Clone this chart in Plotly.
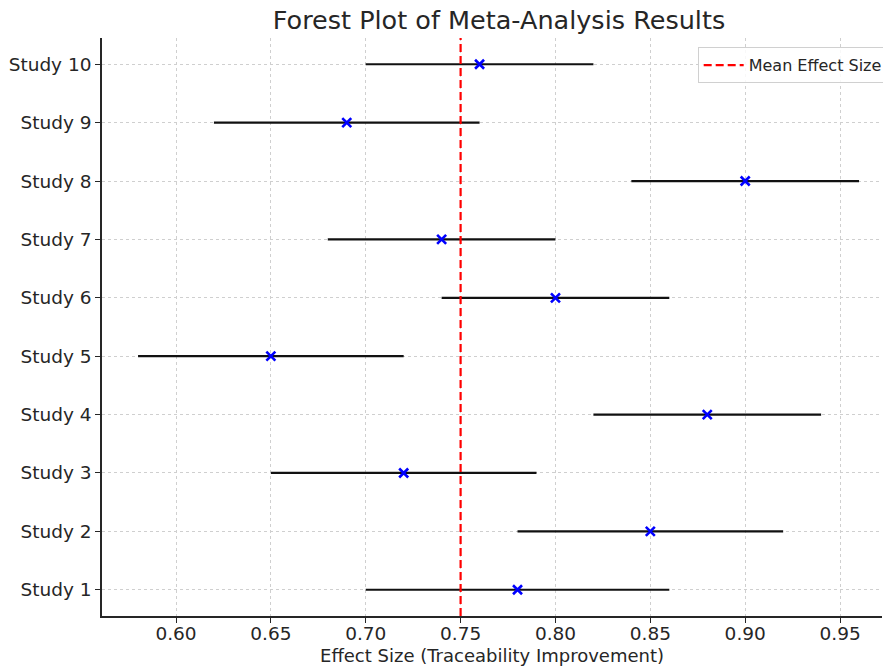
import plotly.graph_objects as go

studies = ["Study 1", "Study 2", "Study 3", "Study 4", "Study 5",
           "Study 6", "Study 7", "Study 8", "Study 9", "Study 10"]
effect = [0.78, 0.85, 0.72, 0.88, 0.65, 0.80, 0.74, 0.90, 0.69, 0.76]
lower = [0.70, 0.78, 0.65, 0.82, 0.58, 0.74, 0.68, 0.84, 0.62, 0.70]
upper = [0.86, 0.92, 0.79, 0.94, 0.72, 0.86, 0.80, 0.96, 0.76, 0.82]
mean_effect = 0.75
x_ticks = [0.60, 0.65, 0.70, 0.75, 0.80, 0.85, 0.90, 0.95]

ypos = list(range(len(studies)))
err_plus = [u - e for u, e in zip(upper, effect)]
err_minus = [e - l for e, l in zip(effect, lower)]

FONT = "DejaVu Sans"
TXT = "#262626"

fig = go.Figure()

fig.add_trace(go.Scatter(
    x=effect, y=ypos, mode="markers",
    marker=dict(symbol="x-thin", size=9, color="#0000ff",
                line=dict(width=2.6, color="#0000ff")),
    error_x=dict(type="data", symmetric=False, array=err_plus,
                 arrayminus=err_minus, color="#111111", thickness=2.2, width=0),
    showlegend=False, hoverinfo="x+y",
))

fig.add_shape(type="line", xref="x", yref="paper", x0=mean_effect, x1=mean_effect,
              y0=0, y1=1, line=dict(color="#ff0000", width=2.2, dash="8px,4px"),
              layer="above")

fig.add_trace(go.Scatter(
    x=[None], y=[None], mode="lines", name="Mean Effect Size",
    line=dict(color="#ff0000", width=2.2, dash="8px,4px"),
))

fig.update_layout(
    width=883, height=667,
    margin=dict(l=102, r=1, t=38, b=51, autoexpand=False),
    paper_bgcolor="white", plot_bgcolor="white",
    font=dict(family=FONT, color=TXT),
    title=dict(text="Forest Plot of Meta-Analysis Results",
               font=dict(size=25.5, color=TXT, family=FONT),
               x=0.509, xref="paper", xanchor="center",
               y=0.97, yref="container", yanchor="middle"),
    legend=dict(x=0.7637, y=0.984, xanchor="left", yanchor="top",
                bgcolor="rgba(255,255,255,0.85)", bordercolor="#d0d0d0",
                borderwidth=1, font=dict(size=16, color=TXT, family=FONT),
                itemwidth=40, tracegroupgap=0),
    showlegend=True,
)

fig.update_xaxes(
    range=[0.561, 0.9721], tickvals=x_ticks,
    ticktext=[f"{v:.2f}" for v in x_ticks],
    tickfont=dict(size=18.5, color=TXT),
    ticks="outside", ticklen=5, tickwidth=1.3, tickcolor=TXT,
    ticklabelstandoff=-5,
    showline=True, linecolor=TXT, linewidth=1.6,
    showgrid=True, gridcolor="#cfcfcf", gridwidth=0.8, griddash="3px,3px",
    zeroline=False, automargin=False,
    title=dict(text="Effect Size (Traceability Improvement)",
               font=dict(size=18, color=TXT), standoff=6),
)
fig.update_yaxes(
    range=[-0.45, 9.45], tickvals=ypos, ticktext=studies,
    tickfont=dict(size=18.5, color=TXT),
    ticks="outside", ticklen=5, tickwidth=1.3, tickcolor=TXT,
    showline=True, linecolor=TXT, linewidth=1.6,
    showgrid=True, gridcolor="#cfcfcf", gridwidth=0.8, griddash="3px,3px",
    zeroline=False, automargin=False,
)

fig.write_html("out.html", post_script="document.body.style.margin='0';",
               config={"displayModeBar": False})
